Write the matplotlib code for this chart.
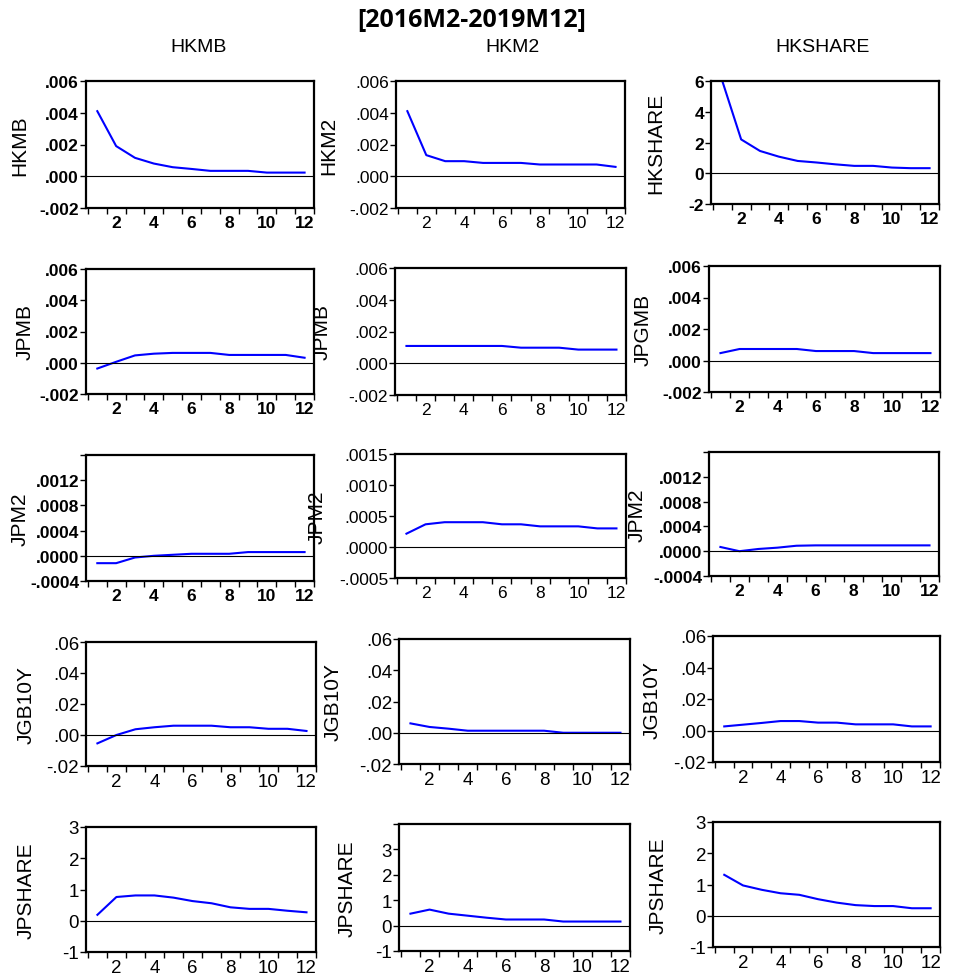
import numpy as np
import matplotlib
matplotlib.use("Agg")
import matplotlib.pyplot as plt

plt.rcParams['font.family'] = ['Liberation Sans', 'DejaVu Sans']

periods = np.arange(1, 13)

# impulse responses (rows: shock, cols: response)
hkmb_hkmb = [0.0041, 0.0019, 0.00116, 0.0008, 0.00057, 0.00046, 0.00034, 0.00034, 0.00034, 0.00023, 0.00023, 0.00023]
hkmb_hkm2 = [0.0041, 0.00133, 0.00095, 0.00095, 0.00084, 0.00084, 0.00084, 0.00074, 0.00074, 0.00074, 0.00074, 0.00059]
hkmb_hkshare = [6.0, 2.2, 1.45, 1.08, 0.8, 0.7, 0.58, 0.48, 0.48, 0.37, 0.33, 0.33]

jpmb_hkmb = [-0.00037, 0.00006, 0.00047, 0.00058, 0.00063, 0.00063, 0.00063, 0.0005, 0.0005, 0.0005, 0.0005, 0.00032]
jpmb_hkm2 = [0.00109, 0.00109, 0.00109, 0.00109, 0.00109, 0.00109, 0.00098, 0.00098, 0.00098, 0.00086, 0.00086, 0.00086]
jpmb_hkshare = [0.00047, 0.00073, 0.00073, 0.00073, 0.00073, 0.0006, 0.0006, 0.0006, 0.00047, 0.00047, 0.00047, 0.00047]

jpm2_hkmb = [-0.000117, -0.000117, -0.000027, 0.0, 0.000016, 0.000032, 0.000032, 0.000032, 0.000059, 0.000059, 0.000059, 0.000059]
jpm2_hkm2 = [0.000215, 0.000366, 0.0004, 0.0004, 0.0004, 0.000366, 0.000366, 0.000333, 0.000333, 0.000333, 0.0003, 0.0003]
jpm2_hkshare = [0.000068, 0.0, 0.000036, 0.000057, 0.000088, 0.000094, 0.000094, 0.000094, 0.000094, 0.000094, 0.000094, 0.000094]

jgb_hkmb = [-0.0054, 0.0, 0.0037, 0.005, 0.006, 0.006, 0.006, 0.005, 0.005, 0.004, 0.004, 0.0026]
jgb_hkm2 = [0.006, 0.0037, 0.0026, 0.0013, 0.0013, 0.0013, 0.0013, 0.0013, 0.0, 0.0, 0.0, 0.0]
jgb_hkshare = [0.0026, 0.0037, 0.0048, 0.006, 0.006, 0.005, 0.005, 0.0039, 0.0039, 0.0039, 0.0026, 0.0026]

jps_hkmb = [0.19, 0.76, 0.81, 0.81, 0.74, 0.63, 0.56, 0.43, 0.38, 0.38, 0.32, 0.27]
jps_hkm2 = [0.47, 0.63, 0.47, 0.39, 0.31, 0.24, 0.24, 0.24, 0.16, 0.16, 0.16, 0.16]
jps_hkshare = [1.31, 0.97, 0.83, 0.72, 0.67, 0.53, 0.42, 0.34, 0.31, 0.31, 0.24, 0.24]

col_titles = ['HKMB', 'HKM2', 'HKSHARE']
row_labels = [['HKMB', 'HKM2', 'HKSHARE'],
              ['JPMB', 'JPMB', 'JPGMB'],
              ['JPM2', 'JPM2', 'JPM2'],
              ['JGB10Y', 'JGB10Y', 'JGB10Y'],
              ['JPSHARE', 'JPSHARE', 'JPSHARE']]
series = [[hkmb_hkmb, hkmb_hkm2, hkmb_hkshare],
          [jpmb_hkmb, jpmb_hkm2, jpmb_hkshare],
          [jpm2_hkmb, jpm2_hkm2, jpm2_hkshare],
          [jgb_hkmb, jgb_hkm2, jgb_hkshare],
          [jps_hkmb, jps_hkm2, jps_hkshare]]

# y scales: (ticks, labels)
sc_mb = ([-0.002, 0, 0.002, 0.004, 0.006], ['-.002', '.000', '.002', '.004', '.006'])
sc_share6 = ([-2, 0, 2, 4, 6], ['-2', '0', '2', '4', '6'])
sc_m2a = ([-0.0004, 0, 0.0004, 0.0008, 0.0012, 0.0016], ['-.0004', '.0000', '.0004', '.0008', '.0012', ''])
sc_m2b = ([-0.0005, 0, 0.0005, 0.0010, 0.0015], ['-.0005', '.0000', '.0005', '.0010', '.0015'])
sc_jgb = ([-0.02, 0, 0.02, 0.04, 0.06], ['-.02', '.00', '.02', '.04', '.06'])
sc_js3 = ([-1, 0, 1, 2, 3], ['-1', '0', '1', '2', '3'])
sc_js4 = ([-1, 0, 1, 2, 3, 4], ['-1', '0', '1', '2', '3', ''])
scales = [[sc_mb, sc_mb, sc_share6],
          [sc_mb, sc_mb, sc_mb],
          [sc_m2a, sc_m2b, sc_m2a],
          [sc_jgb, sc_jgb, sc_jgb],
          [sc_js3, sc_js4, sc_js3]]

W, H = 955, 978
# panel boxes in pixels: left, top, right, bottom
boxes = [[(86, 82, 314, 209), (396, 82, 625, 209), (711, 82, 939, 205)],
         [(86, 270, 314, 395), (395, 269, 626, 396), (709, 267, 940, 393)],
         [(86, 456, 314, 582), (395, 455, 626, 579), (709, 453, 939, 577)],
         [(86, 643, 316, 767), (399, 640, 630, 765), (713, 637, 940, 763)],
         [(86, 828, 316, 953), (399, 825, 630, 952), (713, 823, 940, 948)]]
ylab_x = [[29, 338, 665], [35, 332, 653], [30, 327, 647], [36, 343, 662], [36, 357, 668]]

fig = plt.figure(figsize=(W / 100, H / 100), dpi=100)
fig.text(472 / W, 1 - 20 / H, '[2016M2-2019M12]', ha='center', va='center',
         fontsize=18, fontweight='bold', family=['Open Sans', 'DejaVu Sans'])
for x, t in zip([199, 512, 823], col_titles):
    fig.text(x / W, 1 - 47 / H, t, ha='center', va='center', fontsize=14)

for r in range(5):
    for c in range(3):
        l, t, rr, b = boxes[r][c]
        ax = fig.add_axes([l / W, 1 - b / H, (rr - l) / W, (b - t) / H])
        ax.plot(periods, series[r][c], color='#0000ff', lw=1.5)
        ax.axhline(0, color='black', lw=0.8)
        ticks, labs = scales[r][c]
        ax.set_ylim(ticks[0], ticks[-1])
        ax.set_xlim(0.4, 12.5)
        fw = 'bold' if (c != 1 and r < 3) else 'normal'
        fs = 12.5 if r < 3 else 13.5
        ax.set_yticks(ticks)
        ax.set_yticklabels(labs, fontsize=fs, fontweight=fw)
        ax.set_xticks(np.arange(2, 13, 2))
        ax.set_xticklabels([str(v) for v in range(2, 13, 2)], fontsize=fs, fontweight=fw)
        ax.set_xticks(np.arange(0.5, 13, 1), minor=True)
        ax.tick_params(axis='x', which='major', length=0, pad=5)
        ax.tick_params(axis='x', which='minor', length=4, width=1)
        ax.tick_params(axis='y', length=4, width=1, pad=1)
        for s in ax.spines.values():
            s.set_linewidth(1.6)
        ax.set_ylabel(row_labels[r][c], fontsize=15)
        ax.yaxis.set_label_coords((ylab_x[r][c] - l) / (rr - l), 0.5)

fig.savefig('out.png', dpi=100)
